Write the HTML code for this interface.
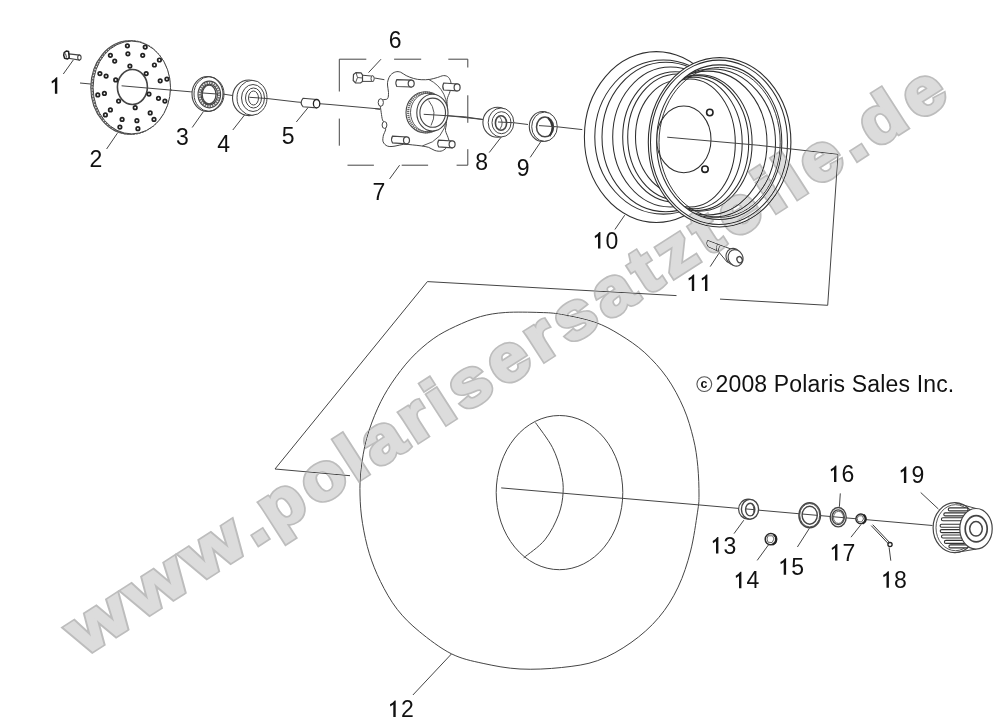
<!DOCTYPE html>
<html><head><meta charset="utf-8"><style>
html,body{margin:0;padding:0;background:#fff;}
body{width:1007px;height:721px;overflow:hidden;position:relative;font-family:"Liberation Sans",sans-serif;}
svg{position:absolute;left:0;top:0;}
</style></head><body>
<svg width="1007" height="721" viewBox="0 0 1007 721">
<rect width="1007" height="721" fill="#fff"/>
<g>
<polyline points="80.0,83.0 92.5,84.2" fill="none" stroke="#454545" stroke-width="1"/>
<polyline points="121.6,85.8 190.6,91.8 224.0,94.2 231.0,95.3 267.0,98.5 297.0,102.0 330.0,104.5 380.0,109.0" fill="none" stroke="#454545" stroke-width="1"/>
<polyline points="424.7,113.2 483.0,119.5" fill="none" stroke="#454545" stroke-width="1"/>
<polyline points="513.5,122.7 528.0,124.5" fill="none" stroke="#454545" stroke-width="1"/>
<polyline points="536.0,125.5 557.3,126.8 582.3,129.6" fill="none" stroke="#454545" stroke-width="1"/>
<path d="M68.7,53.9 L79.6,55.1 L79.4,60.1 L68.7,58.3Z" fill="#fff" stroke="#454545" stroke-width="1.1"/>
<ellipse cx="79.4" cy="57.6" rx="1.7" ry="2.5" fill="#fff" stroke="#454545" stroke-width="1.1"/>
<path d="M64.2,52.6 L66.3,51 L68.6,51.6 L69.2,57.6 L67.6,59 L64.6,58.2 L63.7,55.2Z" fill="#fff" stroke="#222" stroke-width="1.5" stroke-linejoin="round"/>
<path d="M65.5,53.5 L66.5,57.5" fill="none" stroke="#444" stroke-width="1"/>
<polyline points="73.3,60.0 63.3,74.0" fill="none" stroke="#454545" stroke-width="1"/>
<ellipse cx="129.8" cy="87.5" rx="39.0" ry="46.6" fill="#fff" stroke="#454545" stroke-width="1.1"/>
<ellipse cx="130.8" cy="87.5" rx="38.8" ry="46.5" fill="none" stroke="#666" stroke-width="2" stroke-dasharray="2 1"/>
<ellipse cx="131.8" cy="87.5" rx="38.7" ry="46.4" fill="#fff" stroke="#454545" stroke-width="1"/>
<ellipse cx="132.4" cy="87.0" rx="15.0" ry="17.5" fill="none" stroke="#454545" stroke-width="1.6"/>
<circle cx="127.4" cy="45.8" r="1.75" fill="#fff" stroke="#222" stroke-width="1.7"/>
<circle cx="145.2" cy="47.1" r="1.75" fill="#fff" stroke="#222" stroke-width="1.7"/>
<circle cx="127.9" cy="53.8" r="1.75" fill="#fff" stroke="#222" stroke-width="1.7"/>
<circle cx="142.7" cy="55.3" r="1.75" fill="#fff" stroke="#222" stroke-width="1.7"/>
<circle cx="110.4" cy="55.3" r="1.75" fill="#fff" stroke="#222" stroke-width="1.7"/>
<circle cx="114.7" cy="61.1" r="1.75" fill="#fff" stroke="#222" stroke-width="1.7"/>
<circle cx="159.4" cy="60.0" r="1.75" fill="#fff" stroke="#222" stroke-width="1.7"/>
<circle cx="154.4" cy="65.0" r="1.75" fill="#fff" stroke="#222" stroke-width="1.7"/>
<circle cx="129.9" cy="66.1" r="1.75" fill="#fff" stroke="#222" stroke-width="1.7"/>
<circle cx="146.2" cy="73.6" r="1.75" fill="#fff" stroke="#222" stroke-width="1.7"/>
<circle cx="99.9" cy="73.6" r="1.75" fill="#fff" stroke="#222" stroke-width="1.7"/>
<circle cx="106.1" cy="76.1" r="1.75" fill="#fff" stroke="#222" stroke-width="1.7"/>
<circle cx="115.7" cy="79.9" r="1.75" fill="#fff" stroke="#222" stroke-width="1.7"/>
<circle cx="166.9" cy="79.1" r="1.75" fill="#fff" stroke="#222" stroke-width="1.7"/>
<circle cx="160.2" cy="80.8" r="1.75" fill="#fff" stroke="#222" stroke-width="1.7"/>
<circle cx="97.8" cy="94.9" r="1.75" fill="#fff" stroke="#222" stroke-width="1.7"/>
<circle cx="104.4" cy="93.4" r="1.75" fill="#fff" stroke="#222" stroke-width="1.7"/>
<circle cx="149.0" cy="94.1" r="1.75" fill="#fff" stroke="#222" stroke-width="1.7"/>
<circle cx="158.5" cy="98.3" r="1.75" fill="#fff" stroke="#222" stroke-width="1.7"/>
<circle cx="164.9" cy="101.1" r="1.75" fill="#fff" stroke="#222" stroke-width="1.7"/>
<circle cx="118.6" cy="101.1" r="1.75" fill="#fff" stroke="#222" stroke-width="1.7"/>
<circle cx="135.2" cy="107.7" r="1.75" fill="#fff" stroke="#222" stroke-width="1.7"/>
<circle cx="110.4" cy="109.9" r="1.75" fill="#fff" stroke="#222" stroke-width="1.7"/>
<circle cx="105.4" cy="114.9" r="1.75" fill="#fff" stroke="#222" stroke-width="1.7"/>
<circle cx="150.2" cy="112.9" r="1.75" fill="#fff" stroke="#222" stroke-width="1.7"/>
<circle cx="154.0" cy="119.4" r="1.75" fill="#fff" stroke="#222" stroke-width="1.7"/>
<circle cx="122.1" cy="119.4" r="1.75" fill="#fff" stroke="#222" stroke-width="1.7"/>
<circle cx="136.9" cy="120.7" r="1.75" fill="#fff" stroke="#222" stroke-width="1.7"/>
<circle cx="119.9" cy="127.1" r="1.75" fill="#fff" stroke="#222" stroke-width="1.7"/>
<circle cx="137.9" cy="128.7" r="1.75" fill="#fff" stroke="#222" stroke-width="1.7"/>
<polyline points="121.6,85.8 172.0,90.2" fill="none" stroke="#454545" stroke-width="1"/>
<polyline points="117.4,133.2 106.6,149.0" fill="none" stroke="#454545" stroke-width="1"/>
<ellipse cx="207.5" cy="94.0" rx="15.5" ry="17.5" fill="#fff" stroke="#454545" stroke-width="1.1"/>
<ellipse cx="209.0" cy="94.0" rx="15.0" ry="17.3" fill="none" stroke="#454545" stroke-width="1"/>
<ellipse cx="209.3" cy="94.5" rx="9.7" ry="11.8" fill="none" stroke="#777" stroke-width="2.4" stroke-dasharray="1.6 0.9"/>
<ellipse cx="209.3" cy="94.5" rx="11.3" ry="13.4" fill="none" stroke="#454545" stroke-width="1.1"/>
<ellipse cx="209.3" cy="94.5" rx="8.2" ry="10.3" fill="none" stroke="#454545" stroke-width="1.1"/>
<ellipse cx="209.1" cy="94.6" rx="6.9" ry="9.4" fill="#fff" stroke="#454545" stroke-width="1.3"/>
<polyline points="203.0,93.0 217.0,94.0" fill="none" stroke="#454545" stroke-width="1"/>
<polyline points="203.4,111.6 192.2,127.5" fill="none" stroke="#454545" stroke-width="1"/>
<ellipse cx="249.0" cy="97.8" rx="16.5" ry="17.8" fill="#fff" stroke="#454545" stroke-width="1.1"/>
<ellipse cx="252.0" cy="97.8" rx="15.0" ry="17.5" fill="#fff" stroke="#454545" stroke-width="1"/>
<ellipse cx="253.0" cy="98.0" rx="11.5" ry="13.5" fill="none" stroke="#454545" stroke-width="1"/>
<ellipse cx="253.5" cy="98.0" rx="8.0" ry="10.0" fill="none" stroke="#454545" stroke-width="1"/>
<ellipse cx="253.5" cy="98.0" rx="5.0" ry="7.0" fill="none" stroke="#454545" stroke-width="1"/>
<polyline points="249.4,97.3 267.0,98.5" fill="none" stroke="#454545" stroke-width="1"/>
<polyline points="244.7,114.8 232.8,130.0" fill="none" stroke="#454545" stroke-width="1"/>
<path d="M303,98.3 L316.6,99.5 L316.6,107.9 L303,106.7 Q299.3,102.5 303,98.3Z" fill="#fff" stroke="#454545" stroke-width="1.1"/>
<ellipse cx="316.6" cy="103.7" rx="3.2" ry="4.2" fill="#fff" stroke="#222" stroke-width="1.3"/>
<polyline points="308.0,107.7 296.3,122.0" fill="none" stroke="#454545" stroke-width="1"/>
<polyline points="339.3,91.5 339.3,59.2 366.3,59.2" fill="none" stroke="#454545" stroke-width="1"/>
<polyline points="394.1,59.2 421.2,59.2" fill="none" stroke="#454545" stroke-width="1"/>
<polyline points="448.3,59.2 467.8,59.2 467.8,67.5" fill="none" stroke="#454545" stroke-width="1"/>
<polyline points="339.3,118.6 339.3,145.7" fill="none" stroke="#454545" stroke-width="1"/>
<polyline points="467.8,95.3 467.8,122.8" fill="none" stroke="#454545" stroke-width="1"/>
<polyline points="347.5,165.2 373.9,165.2" fill="none" stroke="#454545" stroke-width="1"/>
<polyline points="401.7,165.2 428.1,165.2" fill="none" stroke="#454545" stroke-width="1"/>
<polyline points="456.6,165.2 467.8,165.2 467.8,149.2" fill="none" stroke="#454545" stroke-width="1"/>
<polyline points="399.6,165.2 389.6,178.9" fill="none" stroke="#454545" stroke-width="1"/>
<path d="M362.1,75.2 L373.2,76.2 L373.2,81.4 L362.1,81.4Z" fill="#fff" stroke="#454545"/>
<ellipse cx="372.6" cy="78.6" rx="1.6" ry="2.8" fill="#fff" stroke="#454545"/>
<path d="M353.5,74.5 L356,72.6 L361,72.8 L362.5,75 L362.5,81.5 L360.5,83 L355.5,82.8 L353.2,80.5Z" fill="#fff" stroke="#454545" stroke-width="1.2"/>
<path d="M356,72.6 L357.5,77.5 L355.5,82.8 M357.5,77.5 L362.5,78" fill="none" stroke="#454545" stroke-width="0.9"/>
<polyline points="374.5,78.0 384.4,79.7" fill="none" stroke="#454545" stroke-width="1"/>
<polyline points="381.0,59.2 368.5,72.6" fill="none" stroke="#454545" stroke-width="1"/>
<path d="M388.1,80.0 C388.6,78.3 389.4,76.3 390.6,75.0 C391.9,73.6 393.9,72.3 395.6,71.9 C397.3,71.4 398.8,71.6 400.6,72.2 C402.4,72.9 404.0,74.6 406.2,75.6 C408.4,76.7 411.2,77.8 413.7,78.5 C416.2,79.2 418.5,79.6 421.2,79.7 C423.9,79.9 427.2,79.7 429.9,79.4 C432.6,79.0 435.1,78.1 437.4,77.5 C439.7,76.9 441.8,75.6 443.7,75.6 C445.5,75.6 447.4,76.1 448.6,77.5 C449.9,78.8 450.9,81.3 451.1,83.7 C451.4,86.1 450.6,89.2 449.9,91.8 C449.2,94.4 447.6,96.5 447.2,99.3 C446.7,102.1 447.3,104.6 447.2,108.7 C447.0,112.7 446.7,120.0 446.4,123.7 C446.1,127.3 445.3,128.2 445.5,130.5 C445.8,132.8 447.4,135.3 448.0,137.4 C448.6,139.5 449.6,141.2 449.3,143.0 C449.0,144.8 447.5,146.7 446.2,148.0 C444.8,149.4 443.0,150.7 441.2,151.1 C439.3,151.5 437.0,151.1 434.9,150.5 C432.8,149.9 431.0,148.2 428.7,147.4 C426.4,146.6 423.9,146.3 421.2,145.9 C418.5,145.5 415.4,145.2 412.4,144.9 C409.5,144.6 406.6,144.1 403.7,144.3 C400.8,144.5 397.7,145.8 395.0,146.1 C392.3,146.5 389.5,146.9 387.5,146.1 C385.5,145.4 383.8,143.6 383.1,141.8 C382.4,139.9 383.1,136.9 383.5,134.9 C383.9,132.9 385.4,131.8 385.6,129.9 C385.9,128.0 385.5,125.3 385.0,123.7 C384.5,122.0 383.1,121.8 382.5,119.9 C381.9,118.1 381.6,115.1 381.2,112.4 C380.9,109.7 380.0,105.8 380.2,103.7 C380.5,101.6 381.3,100.8 382.5,100.0 C383.7,99.1 386.5,100.0 387.5,98.7 C388.5,97.5 388.5,94.8 388.5,92.5 C388.5,90.2 387.5,87.1 387.5,85.0 C387.4,82.9 387.6,81.6 388.1,80.0Z" fill="#fff" stroke="#454545" stroke-width="1" stroke-linejoin="round"/>
<path d="M428.7,79.4 Q449.9,90.0 446.8,117.4 Q444.9,139.9 422.4,145.9" fill="none" stroke="#454545" stroke-width="0.9"/>
<ellipse cx="380.8" cy="102.5" rx="2.6" ry="3.8" fill="#fff" stroke="#454545" stroke-width="1"/>
<ellipse cx="384.5" cy="125.0" rx="2.4" ry="3.4" fill="#fff" stroke="#454545" stroke-width="1"/>
<polyline points="375.0,108.7 380.0,109.3" fill="none" stroke="#454545" stroke-width="1"/>
<path d="M396.8,79.6 L411.2,80.1 L411.2,87.0 L396.8,86.5 Q394.8,83.1 396.8,79.6Z" fill="#fff" stroke="#454545" stroke-width="1.1"/>
<ellipse cx="411.2" cy="83.6" rx="3.0" ry="3.5" fill="#fff" stroke="#454545" stroke-width="1.2"/>
<path d="M443.7,83.0 L457.1,84.0 L457.1,90.9 L443.7,90.0 Q441.7,86.5 443.7,83.0Z" fill="#fff" stroke="#454545" stroke-width="1.1"/>
<ellipse cx="457.1" cy="87.4" rx="3.0" ry="3.5" fill="#fff" stroke="#454545" stroke-width="1.2"/>
<path d="M392.5,136.1 L406.5,136.9 L406.5,143.8 L392.5,142.9 Q390.5,139.5 392.5,136.1Z" fill="#fff" stroke="#454545" stroke-width="1.1"/>
<ellipse cx="406.5" cy="140.3" rx="3.0" ry="3.5" fill="#fff" stroke="#454545" stroke-width="1.2"/>
<path d="M438.7,140.1 L452.1,140.9 L452.1,147.8 L438.7,146.9 Q436.7,143.5 438.7,140.1Z" fill="#fff" stroke="#454545" stroke-width="1.1"/>
<ellipse cx="452.1" cy="144.3" rx="3.0" ry="3.5" fill="#fff" stroke="#454545" stroke-width="1.2"/>
<ellipse cx="425.5" cy="112.4" rx="19.5" ry="20.6" fill="#fff" stroke="#454545" stroke-width="1.1"/>
<ellipse cx="426.5" cy="112.4" rx="18.3" ry="19.9" fill="none" stroke="#666" stroke-width="2.2" stroke-dasharray="1.2 0.8"/>
<ellipse cx="427.8" cy="112.5" rx="17.3" ry="19.3" fill="none" stroke="#454545" stroke-width="0.9"/>
<ellipse cx="432.4" cy="112.7" rx="15.6" ry="18.4" fill="#fff" stroke="#454545" stroke-width="1.1"/>
<ellipse cx="432.7" cy="112.7" rx="12.8" ry="14.6" fill="none" stroke="#454545" stroke-width="1.1"/>
<path d="M428.7,100.6 Q438,112 431,125.5" fill="none" stroke="#454545" stroke-width="0.9"/>
<polyline points="423.7,114.3 464.9,116.8 483.0,119.5" fill="none" stroke="#454545" stroke-width="1"/>
<ellipse cx="497.5" cy="122.3" rx="14.6" ry="15.0" fill="#fff" stroke="#454545" stroke-width="1.1"/>
<ellipse cx="501.0" cy="122.5" rx="12.8" ry="14.5" fill="#fff" stroke="#454545" stroke-width="1"/>
<ellipse cx="501.5" cy="122.7" rx="9.5" ry="11.0" fill="none" stroke="#454545" stroke-width="1"/>
<ellipse cx="501.0" cy="123.0" rx="5.6" ry="7.3" fill="none" stroke="#454545" stroke-width="1.6"/>
<path d="M499.5,116.5 Q504.5,122.5 500,129" fill="none" stroke="#454545" stroke-width="0.9"/>
<polyline points="498.0,122.0 513.5,122.7" fill="none" stroke="#454545" stroke-width="1"/>
<polyline points="501.0,137.3 489.2,152.6" fill="none" stroke="#454545" stroke-width="1"/>
<ellipse cx="542.8" cy="126.5" rx="13.5" ry="15.0" fill="#fff" stroke="#454545" stroke-width="1.1"/>
<ellipse cx="544.5" cy="126.7" rx="12.8" ry="14.6" fill="#fff" stroke="#454545" stroke-width="1"/>
<ellipse cx="545.0" cy="126.9" rx="8.5" ry="9.9" fill="none" stroke="#454545" stroke-width="1.5"/>
<path d="M548,117.8 Q556,126 549.5,136.2" fill="none" stroke="#333" stroke-width="1.8"/>
<polyline points="539.0,125.6 557.3,126.8" fill="none" stroke="#454545" stroke-width="1"/>
<polyline points="540.6,142.0 530.2,157.4" fill="none" stroke="#454545" stroke-width="1"/>
<ellipse cx="656.3" cy="137.0" rx="71.9" ry="85.4" fill="#fff" stroke="#2e2e2e" stroke-width="1.05"/>
<ellipse cx="663.4" cy="137.0" rx="68.6" ry="77.1" fill="none" stroke="#2e2e2e" stroke-width="1.05"/>
<ellipse cx="665.8" cy="137.0" rx="63.8" ry="74.7" fill="none" stroke="#2e2e2e" stroke-width="1.05"/>
<ellipse cx="670.6" cy="137.0" rx="57.9" ry="70.0" fill="none" stroke="#2e2e2e" stroke-width="1.05"/>
<ellipse cx="675.3" cy="137.0" rx="52.6" ry="65.2" fill="none" stroke="#2e2e2e" stroke-width="1.05"/>
<ellipse cx="678.0" cy="137.0" rx="50.3" ry="63.0" fill="none" stroke="#2e2e2e" stroke-width="1.05"/>
<ellipse cx="680.0" cy="137.0" rx="44.5" ry="57.0" fill="none" stroke="#2e2e2e" stroke-width="1.05"/>
<ellipse cx="719.6" cy="142.3" rx="71.3" ry="84.7" fill="#fff" stroke="#2e2e2e" stroke-width="1.1"/>
<ellipse cx="719.0" cy="142.3" rx="68.5" ry="82.2" fill="none" stroke="#2e2e2e" stroke-width="1.05"/>
<clipPath id="e1b"><ellipse cx="719.25" cy="142.2" rx="62.65" ry="77.3"/></clipPath>
<g clip-path="url(#e1b)">
<ellipse cx="712.1" cy="143.0" rx="63.4" ry="74.1" fill="none" stroke="#2e2e2e" stroke-width="1.05"/>
<ellipse cx="707.4" cy="143.0" rx="59.6" ry="71.9" fill="none" stroke="#2e2e2e" stroke-width="1.05"/>
<ellipse cx="699.2" cy="143.0" rx="52.9" ry="68.2" fill="none" stroke="#2e2e2e" stroke-width="1.05"/>
<ellipse cx="697.4" cy="143.0" rx="51.3" ry="67.4" fill="none" stroke="#2e2e2e" stroke-width="1.05"/>
<ellipse cx="693.8" cy="143.0" rx="48.4" ry="65.7" fill="none" stroke="#2e2e2e" stroke-width="1.05"/>
<ellipse cx="690.0" cy="143.0" rx="45.3" ry="64.0" fill="none" stroke="#2e2e2e" stroke-width="1.05"/>
<ellipse cx="683.8" cy="139.4" rx="27.2" ry="33.3" fill="#fff" stroke="#2e2e2e" stroke-width="1.05"/>
<circle cx="709.8" cy="112.5" r="3.2" fill="#fff" stroke="#222" stroke-width="1.6"/>
<circle cx="705" cy="169.2" r="3.2" fill="#fff" stroke="#222" stroke-width="1.6"/>
<polyline points="667.2,137.2 760.0,145.4" fill="none" stroke="#454545" stroke-width="1"/>
</g>
<ellipse cx="719.2" cy="142.2" rx="62.6" ry="77.3" fill="none" stroke="#2e2e2e" stroke-width="1.05"/>
<ellipse cx="719.6" cy="142.4" rx="60.6" ry="75.0" fill="none" stroke="#2e2e2e" stroke-width="0.95"/>
<polyline points="759.7,145.4 838.0,154.3 827.7,305.3 720.0,299.1" fill="none" stroke="#454545" stroke-width="1"/>
<polyline points="676.5,295.6 427.4,281.6 275.0,469.0 350.0,475.7" fill="none" stroke="#454545" stroke-width="1"/>
<polyline points="624.7,215.2 614.9,229.5" fill="none" stroke="#454545" stroke-width="1"/>
<path d="M720.5,245.2 L707.5,240.3 Q705.5,243.5 707.9,246.6 L718.2,251.3" fill="#fff" stroke="#454545" stroke-width="1" stroke-linejoin="round"/>
<path d="M720.5,245.2 L732,249.4 L727.4,262.4 L718.2,251.3 Q718.5,247.5 720.5,245.2Z" fill="#fff" stroke="#454545" stroke-width="1"/>
<path d="M717.5,243.8 Q715.8,248 716.5,250.4" fill="none" stroke="#454545" stroke-width="0.9"/>
<ellipse cx="733.8" cy="256.8" rx="7.6" ry="8.6" fill="#fff" stroke="#454545" stroke-width="1.1" transform="rotate(-25 733.8 256.8)"/>
<ellipse cx="735.6" cy="257.9" rx="7.2" ry="8.4" fill="#fff" stroke="#454545" stroke-width="1.1" transform="rotate(-25 735.6 257.9)"/>
<ellipse cx="739.6" cy="259.7" rx="2.6" ry="3.2" fill="none" stroke="#454545" stroke-width="1.3" transform="rotate(-25 739.6 259.7)"/>
<polyline points="719.0,253.2 710.2,266.6" fill="none" stroke="#454545" stroke-width="1"/>
<path d="M505.3,312.5 C515.2,311.8 530.6,312.2 540.0,312.5 C549.4,312.8 552.5,312.8 561.6,314.4 C570.8,316.0 585.2,318.8 594.9,322.2 C604.6,325.6 611.6,329.6 619.9,334.7 C628.2,339.8 636.9,345.5 644.8,352.7 C652.6,359.9 660.5,368.4 667.0,377.7 C673.5,386.9 679.3,398.0 683.7,408.2 C688.1,418.4 691.0,429.0 693.4,438.7 C695.8,448.4 696.9,457.0 697.8,466.4 C698.7,475.8 699.0,487.4 699.0,495.0 C699.0,502.6 698.9,502.9 697.5,512.2 C696.1,521.5 693.8,538.5 690.6,551.0 C687.4,563.5 683.4,576.0 678.1,587.1 C672.8,598.2 666.6,608.4 658.7,617.6 C650.9,626.9 641.2,635.4 631.0,642.6 C620.8,649.8 609.3,656.5 597.7,660.6 C586.1,664.8 574.6,666.1 561.6,667.5 C548.6,668.9 533.1,669.7 520.0,669.0 C506.9,668.3 494.6,665.9 483.1,663.4 C471.6,660.9 461.8,659.0 451.2,653.7 C440.6,648.4 428.3,638.9 419.3,631.5 C410.3,624.1 403.7,617.6 397.2,609.3 C390.7,601.0 385.1,590.8 380.5,581.5 C375.9,572.2 372.4,563.5 369.4,553.8 C366.4,544.1 364.1,533.1 362.5,523.3 C360.9,513.5 360.2,504.0 360.0,495.0 C359.8,486.0 360.0,478.6 361.1,469.2 C362.2,459.8 363.8,448.9 366.6,438.7 C369.4,428.5 373.5,417.4 377.7,408.2 C381.9,398.9 386.1,391.5 391.6,383.2 C397.2,374.9 404.1,365.7 411.0,358.3 C417.9,350.9 425.8,344.1 433.2,338.8 C440.6,333.5 447.5,330.1 455.4,326.4 C463.3,322.7 472.1,318.9 480.4,316.6 C488.7,314.3 495.4,313.2 505.3,312.5Z" fill="#fff" stroke="#454545" stroke-width="1"/>
<ellipse cx="559.5" cy="492.6" rx="63.3" ry="77.1" fill="none" stroke="#454545" stroke-width="1"/>
<path d="M535.4,422.5 C538.2,426.6 548.1,439.1 552.4,447.4 C556.7,455.7 559.3,464.9 561.1,472.4 C562.9,479.9 563.5,485.3 563.1,492.4 C562.7,499.5 561.6,506.9 558.6,514.8 C555.6,522.7 550.7,532.6 544.9,539.8 C539.1,547.0 527.2,554.8 523.7,557.8" fill="none" stroke="#454545" stroke-width="1"/>
<polyline points="501.2,487.9 700.0,505.0 932.5,525.5" fill="none" stroke="#454545" stroke-width="1"/>
<polyline points="451.4,654.0 412.9,695.0" fill="none" stroke="#454545" stroke-width="1"/>
<ellipse cx="748.2" cy="509.2" rx="9.6" ry="10.0" fill="#fff" stroke="#454545" stroke-width="1.2"/>
<path d="M741.4,509.3 a8.6,9.9 0 1,0 17.2,0 a8.6,9.9 0 1,0 -17.2,0Z M745.6,509.6 a4.6,6.3 0 1,0 9.2,0 a4.6,6.3 0 1,0 -9.2,0Z" fill="#fff" fill-rule="evenodd" stroke="#454545" stroke-width="1.4"/>
<path d="M752,503.5 Q755.5,509.5 752.5,515.8" fill="none" stroke="#454545" stroke-width="0.9"/>
<polyline points="745.6,508.9 754.6,509.7" fill="none" stroke="#454545" stroke-width="1"/>
<polyline points="743.8,520.2 734.0,533.6" fill="none" stroke="#454545" stroke-width="1"/>
<circle cx="770.8" cy="539.2" r="5.6" fill="#fff" stroke="#2a2a2a" stroke-width="1.5"/>
<path d="M773.8,534.6 A5.6,5.6 0 0,1 772.6,544.5" fill="none" stroke="#222" stroke-width="2.2"/>
<path d="M768,535.8 L772.6,535.8 L774,539 L772,542.6 L768,542.2 L767,539Z" fill="none" stroke="#555" stroke-width="0.9"/>
<polyline points="768.8,544.4 757.2,560.4" fill="none" stroke="#454545" stroke-width="1"/>
<path d="M798.9,515.2 a10.8,12.5 0 1,0 21.6,0 a10.8,12.5 0 1,0 -21.6,0Z M802.1,515.2 a7.6,9.0 0 1,0 15.2,0 a7.6,9.0 0 1,0 -15.2,0Z" fill="#fff" fill-rule="evenodd" stroke="#454545" stroke-width="1.4"/>
<ellipse cx="809.7" cy="515.2" rx="10.0" ry="11.7" fill="none" stroke="#454545" stroke-width="0.9"/>
<polyline points="809.4,528.3 797.4,547.0" fill="none" stroke="#454545" stroke-width="1"/>
<path d="M830.2,517.2 a8,9.7 0 1,0 16,0 a8,9.7 0 1,0 -16,0Z M832.1,517.2 a6.1,7.3 0 1,0 12.2,0 a6.1,7.3 0 1,0 -12.2,0Z" fill="#fff" fill-rule="evenodd" stroke="#454545" stroke-width="1.4"/>
<ellipse cx="838.5" cy="517.4" rx="5.0" ry="6.0" fill="none" stroke="#454545" stroke-width="0.8"/>
<polyline points="840.3,493.4 839.4,506.8" fill="none" stroke="#454545" stroke-width="1"/>
<circle cx="860.8" cy="518.9" r="4.9" fill="#fff" stroke="#2a2a2a" stroke-width="1.4"/>
<path d="M863.5,514.8 A4.9,4.9 0 0,1 862.6,523.4" fill="none" stroke="#222" stroke-width="2.2"/>
<path d="M858.5,515.8 L862.5,515.8 L863.5,519 L861.5,522 L858,521.5 L857.2,518.5Z" fill="none" stroke="#555" stroke-width="0.9"/>
<polyline points="860.9,524.7 851.0,537.2" fill="none" stroke="#454545" stroke-width="1"/>
<path d="M871.2,525.6 L889.2,544.6 M872.7,524.7 L890.6,543.6" fill="none" stroke="#333" stroke-width="1"/>
<circle cx="890" cy="544.6" r="2.1" fill="#fff" stroke="#222" stroke-width="1.3"/>
<polyline points="889.1,547.4 890.8,560.7" fill="none" stroke="#454545" stroke-width="1"/>
<ellipse cx="954.8" cy="527.7" rx="21.7" ry="25.0" fill="#fff" stroke="#454545" stroke-width="1.2"/>
<ellipse cx="955.5" cy="527.7" rx="19.5" ry="23.0" fill="none" stroke="#454545" stroke-width="0.9"/>
<rect x="948.3" y="507.9" width="19.7" height="3.0" rx="1.5" fill="#fff" stroke="#333" stroke-width="1.1"/>
<rect x="943.8" y="512.9" width="24.2" height="3.0" rx="1.5" fill="#fff" stroke="#333" stroke-width="1.1"/>
<rect x="941.4" y="517.8" width="26.6" height="3.0" rx="1.5" fill="#fff" stroke="#333" stroke-width="1.1"/>
<rect x="940.1" y="524.2" width="27.9" height="3.0" rx="1.5" fill="#fff" stroke="#333" stroke-width="1.1"/>
<rect x="940.2" y="529.6" width="27.8" height="3.0" rx="1.5" fill="#fff" stroke="#333" stroke-width="1.1"/>
<rect x="941.5" y="535.0" width="26.5" height="3.0" rx="1.5" fill="#fff" stroke="#333" stroke-width="1.1"/>
<rect x="944.4" y="540.4" width="23.6" height="3.0" rx="1.5" fill="#fff" stroke="#333" stroke-width="1.1"/>
<rect x="948.9" y="544.9" width="19.1" height="3.0" rx="1.5" fill="#fff" stroke="#333" stroke-width="1.1"/>
<path d="M954.8,502.7 L976,508.5 L976,549.1 L954.8,552.7" fill="none" stroke="#454545" stroke-width="1"/>
<ellipse cx="976.0" cy="528.8" rx="16.2" ry="20.3" fill="#fff" stroke="#454545" stroke-width="1.2"/>
<ellipse cx="976.2" cy="528.8" rx="11.0" ry="13.1" fill="none" stroke="#454545" stroke-width="1.7"/>
<ellipse cx="976.0" cy="528.8" rx="6.3" ry="7.2" fill="none" stroke="#454545" stroke-width="1.5"/>
<polyline points="920.7,492.5 938.4,509.0" fill="none" stroke="#454545" stroke-width="1"/>
<path d="M57.30,93.80 L57.30,77.30 L56.30,77.30 C55.10,78.90 53.50,80.20 51.60,81.20 L51.90,83.40 C52.90,82.80 54.00,82.20 54.90,81.40 L54.90,93.80Z" fill="#111"/>
<text x="89.6" y="167.3" font-family="Liberation Sans" font-size="23" fill="#111">2</text>
<text x="176.0" y="145.0" font-family="Liberation Sans" font-size="23" fill="#111">3</text>
<text x="217.3" y="151.5" font-family="Liberation Sans" font-size="23" fill="#111">4</text>
<text x="281.7" y="143.7" font-family="Liberation Sans" font-size="23" fill="#111">5</text>
<text x="388.8" y="47.9" font-family="Liberation Sans" font-size="23" fill="#111">6</text>
<text x="372.5" y="200.3" font-family="Liberation Sans" font-size="23" fill="#111">7</text>
<text x="475.2" y="169.8" font-family="Liberation Sans" font-size="23" fill="#111">8</text>
<text x="516.8" y="176.4" font-family="Liberation Sans" font-size="23" fill="#111">9</text>
<path d="M600.40,248.60 L600.40,232.10 L599.40,232.10 C598.20,233.70 596.60,235.00 594.70,236.00 L595.00,238.20 C596.00,237.60 597.10,237.00 598.00,236.20 L598.00,248.60Z" fill="#111"/>
<text x="605.6" y="248.6" font-family="Liberation Sans" font-size="23" fill="#111">0</text>
<path d="M694.20,290.90 L694.20,274.40 L693.20,274.40 C692.00,276.00 690.40,277.30 688.50,278.30 L688.80,280.50 C689.80,279.90 690.90,279.30 691.80,278.50 L691.80,290.90Z" fill="#111"/>
<path d="M707.39,290.90 L707.39,274.40 L706.39,274.40 C705.19,276.00 703.59,277.30 701.69,278.30 L701.99,280.50 C702.99,279.90 704.09,279.30 704.99,278.50 L704.99,290.90Z" fill="#111"/>
<path d="M395.70,716.90 L395.70,700.40 L394.70,700.40 C393.50,702.00 391.90,703.30 390.00,704.30 L390.30,706.50 C391.30,705.90 392.40,705.30 393.30,704.50 L393.30,716.90Z" fill="#111"/>
<text x="400.9" y="716.9" font-family="Liberation Sans" font-size="23" fill="#111">2</text>
<path d="M718.40,553.60 L718.40,537.10 L717.40,537.10 C716.20,538.70 714.60,540.00 712.70,541.00 L713.00,543.20 C714.00,542.60 715.10,542.00 716.00,541.20 L716.00,553.60Z" fill="#111"/>
<text x="723.6" y="553.6" font-family="Liberation Sans" font-size="23" fill="#111">3</text>
<path d="M741.40,588.30 L741.40,571.80 L740.40,571.80 C739.20,573.40 737.60,574.70 735.70,575.70 L736.00,577.90 C737.00,577.30 738.10,576.70 739.00,575.90 L739.00,588.30Z" fill="#111"/>
<text x="746.6" y="588.3" font-family="Liberation Sans" font-size="23" fill="#111">4</text>
<path d="M786.10,574.70 L786.10,558.20 L785.10,558.20 C783.90,559.80 782.30,561.10 780.40,562.10 L780.70,564.30 C781.70,563.70 782.80,563.10 783.70,562.30 L783.70,574.70Z" fill="#111"/>
<text x="791.3" y="574.7" font-family="Liberation Sans" font-size="23" fill="#111">5</text>
<path d="M836.40,481.90 L836.40,465.40 L835.40,465.40 C834.20,467.00 832.60,468.30 830.70,469.30 L831.00,471.50 C832.00,470.90 833.10,470.30 834.00,469.50 L834.00,481.90Z" fill="#111"/>
<text x="841.6" y="481.9" font-family="Liberation Sans" font-size="23" fill="#111">6</text>
<path d="M837.40,560.50 L837.40,544.00 L836.40,544.00 C835.20,545.60 833.60,546.90 831.70,547.90 L832.00,550.10 C833.00,549.50 834.10,548.90 835.00,548.10 L835.00,560.50Z" fill="#111"/>
<text x="842.6" y="560.5" font-family="Liberation Sans" font-size="23" fill="#111">7</text>
<path d="M888.90,587.70 L888.90,571.20 L887.90,571.20 C886.70,572.80 885.10,574.10 883.20,575.10 L883.50,577.30 C884.50,576.70 885.60,576.10 886.50,575.30 L886.50,587.70Z" fill="#111"/>
<text x="894.1" y="587.7" font-family="Liberation Sans" font-size="23" fill="#111">8</text>
<path d="M906.30,483.10 L906.30,466.60 L905.30,466.60 C904.10,468.20 902.50,469.50 900.60,470.50 L900.90,472.70 C901.90,472.10 903.00,471.50 903.90,470.70 L903.90,483.10Z" fill="#111"/>
<text x="911.5" y="483.1" font-family="Liberation Sans" font-size="23" fill="#111">9</text>
</g>
<g style="mix-blend-mode:darken"><g transform="translate(101.4,645.1) rotate(-32.69) scale(1,0.93)" stroke-linejoin="miter"><g fill="#bdbdbd" stroke="#bdbdbd" stroke-width="5.6"><text x="0" y="0" font-family="Liberation Sans" font-weight="bold" font-size="70" letter-spacing="6.39" transform="translate(-20.592,0) scale(1.117,1)">www</text><text x="182.62 205.84 254.59 301.93 327.35 372.26 405.39 431.23 476.43 521.74 555.88 601.69 647.49 677.89 719.98 750.57 797.28 822.62 847.94 893.85 918.89 970.03" y="0" font-family="Liberation Sans" font-weight="bold" font-size="70">.polarisersatzteile.de</text></g><g fill="#dcdcdc" stroke="#dcdcdc" stroke-width="2.0"><text x="0" y="0" font-family="Liberation Sans" font-weight="bold" font-size="70" letter-spacing="6.39" transform="translate(-20.592,0) scale(1.117,1)">www</text><text x="182.62 205.84 254.59 301.93 327.35 372.26 405.39 431.23 476.43 521.74 555.88 601.69 647.49 677.89 719.98 750.57 797.28 822.62 847.94 893.85 918.89 970.03" y="0" font-family="Liberation Sans" font-weight="bold" font-size="70">.polarisersatzteile.de</text></g></g></g>
<g font-family="Liberation Sans" font-size="23" fill="#111">
<circle cx="704.3" cy="384.1" r="7.4" fill="none" stroke="#555" stroke-width="1.1"/>
<text x="700.5" y="388" font-size="12.5" font-weight="bold">c</text>
<text x="715.5" y="392.1" letter-spacing="0.16">2008 Polaris Sales Inc.</text>
</g>
</svg>
</body></html>
